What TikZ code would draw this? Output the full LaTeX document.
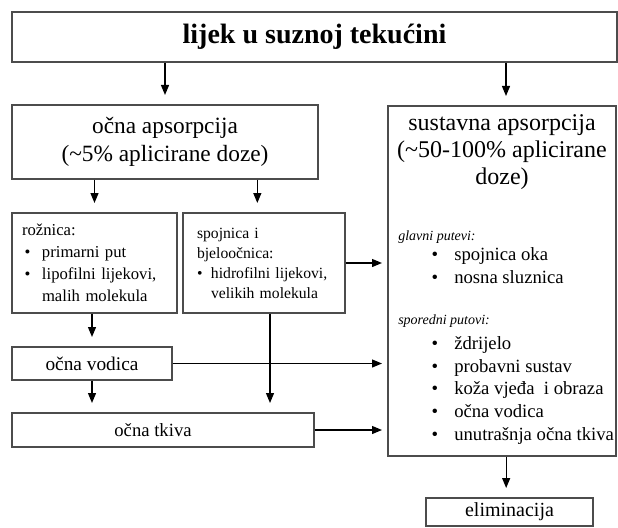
\documentclass[tikz,border=0pt]{standalone}
\usepackage{fontspec}
\setmainfont{Liberation Serif}
\usetikzlibrary{arrows.meta}

\newcommand{\tocka}{\hspace*{25pt}\makebox[17pt][l]{\textbullet}}

\begin{document}
\begin{tikzpicture}[x=0.75pt, y=-0.75pt,
    box/.style={draw=black!70, line width=1pt, fill=white, inner sep=0pt},
    smallbox/.style={box, align=left, inner ysep=0pt,
                     font=\fontsize{12.5}{16.5}\selectfont},
    flow/.style={-{Triangle[length=7.5pt,width=6pt]}, line width=0.9pt,
                 shorten >=7pt},
    side/.style={flow, shorten >=4pt},
]
\useasboundingbox (0,0) rectangle (618,528);

% Lijek u suznoj tekucini
\node[box, minimum width=453.75pt, minimum height=37.5pt,
      font=\fontsize{21}{24}\selectfont\bfseries] (lijek) at (314.5,37)
    {lijek u suznoj tekućini};

% Ocna apsorpcija
\node[box, minimum width=229.5pt, minimum height=55.5pt, align=center,
      font=\fontsize{17.5}{21}\selectfont] (ocna) at (165,142)
    {očna apsorpcija\\(\textasciitilde 5\% aplicirane doze)};

% Sustavna apsorpcija
\node[box, minimum width=171pt, minimum height=262.5pt] (sustav) at (502,281) {};
\node[anchor=base, align=center, inner sep=0pt,
      font=\fontsize{18}{20.5}\selectfont] (sustavnaslov) at (502,185)
    {sustavna apsorpcija\\(\textasciitilde 50-100\% aplicirane\\doze)};
\node[anchor=base west, align=left, inner sep=0pt,
      font=\fontsize{14}{17}\selectfont] (putevi) at (398,440) {
    {\fontsize{10.5}{12}\selectfont\itshape glavni putevi:}\\[-1.5pt]
    \tocka spojnica oka\\
    \tocka nosna sluznica\\[14pt]
    {\fontsize{10.5}{12}\selectfont\itshape sporedni putovi:}\\[1.5pt]
    \tocka ždrijelo\\
    \tocka probavni sustav\\
    \tocka koža vjeđa\ \ i obraza\\
    \tocka očna vodica\\
    \tocka unutrašnja očna tkiva
};

% Roznica i spojnica
\node[smallbox, minimum width=123.75pt, minimum height=75pt, inner xsep=7.5pt,
      text width=108.75pt] (roznica) at (94.5,263) {
    rožnica:\\
    \hspace*{2pt}\makebox[13pt][l]{\textbullet}primarni put\\
    \hspace*{2pt}\makebox[13pt][l]{\textbullet}lipofilni lijekovi,\\
    \hspace*{15pt}malih molekula
};
\node[smallbox, minimum width=121.5pt, minimum height=75pt, inner xsep=10.5pt,
      text width=100.5pt, font=\fontsize{11.75}{15}\selectfont] (spojnica) at (264,263) {
    spojnica i\\
    bjeloočnica:\\
    \makebox[10.5pt][l]{\textbullet}hidrofilni lijekovi,\\
    \hspace*{10.5pt}velikih molekula
};

% Ocna vodica, ocna tkiva, eliminacija
\node[box, minimum width=120pt, minimum height=24.75pt,
      font=\fontsize{14.5}{17}\selectfont] (vodica) at (92,363.5) {očna vodica};
\node[box, minimum width=226.5pt, minimum height=25.5pt,
      font=\fontsize{14}{17}\selectfont] (tkiva) at (163,430)
    {očna tkiva\hspace*{15pt}};
\node[box, minimum width=125.25pt, minimum height=21pt,
      font=\fontsize{15}{17}\selectfont] (eliminacija) at (509.5,512) {eliminacija};

% Strelice
\draw[flow] (ocna.north |- lijek.south) -- (ocna.north);
\draw[flow] ([xshift=3pt]sustav.north |- lijek.south) -- ([xshift=3pt]sustav.north);
\draw[flow] (roznica.north |- ocna.south) -- (roznica.north);
\draw[flow] ([xshift=-5pt]spojnica.north |- ocna.south) -- ([xshift=-5pt]spojnica.north);
\draw[side] (spojnica.east) -- (spojnica.east -| sustav.west);
\draw[flow] (vodica.north |- roznica.south) -- (vodica.north);
\draw[side] (vodica.east) -- (vodica.east -| sustav.west);
\draw[flow] ([xshift=4.5pt]spojnica.south) -- ([xshift=4.5pt]spojnica.south |- tkiva.north);
\draw[flow] (vodica.south) -- (vodica.south |- tkiva.north);
\draw[side] (tkiva.east) -- (tkiva.east -| sustav.west);
\draw[flow] ([xshift=-2.5pt]eliminacija.north |- sustav.south) -- ([xshift=-2.5pt]eliminacija.north);
\end{tikzpicture}
\end{document}
